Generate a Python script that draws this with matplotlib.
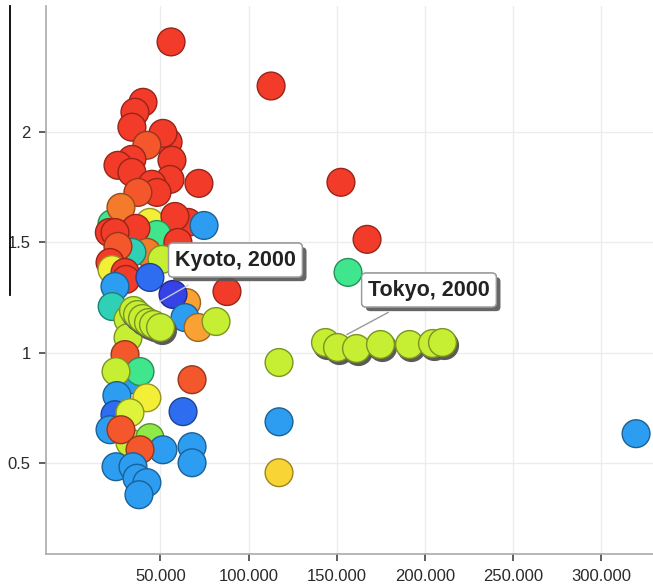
import numpy as np
import matplotlib
matplotlib.use('Agg')
import matplotlib.pyplot as plt
import matplotlib.patheffects as pe
from matplotlib.lines import Line2D
from matplotlib.colors import to_rgb
from matplotlib.transforms import offset_copy
from matplotlib.ticker import FuncFormatter

plt.rcParams['font.family'] = ['Liberation Sans', 'DejaVu Sans']

# bubbles, listed back to front: x value, y value, colour bucket
x_vals = [56.0, 112.7, 40.1, 35.5, 33.8, 54.3, 51.4, 42.3, 33.8, 25.9,
          56.5, 33.8, 55.4, 71.8, 45.2, 48.0, 37.2, 152.3, 167.1, 156.3,
          44.0, 22.5, 21.0, 27.6, 65.6, 58.2, 74.7, 48.0, 36.1, 24.2,
          42.3, 33.8, 59.9, 25.9, 50.9, 21.4, 22.5, 29.9, 30.4, 44.0,
          87.7, 24.2, 64.8, 22.6, 57.1, 63.9, 71.3, 81.5, 31.6, 31.6,
          29.9, 33.8, 38.4, 24.8, 67.9, 25.3, 42.3, 62.8, 24.2, 32.7,
          21.4, 32.7, 44.0, 27.6, 51.4, 38.4, 67.9, 67.9, 24.8, 34.4,
          36.7, 42.3, 37.8, 117.2, 117.2, 117.2, 319.6]
y_vals = [2.41, 2.21, 2.136, 2.091, 2.023, 1.955, 1.995, 1.941, 1.877, 1.85,
          1.873, 1.818, 1.786, 1.768, 1.764, 1.727, 1.727, 1.773, 1.514, 1.364,
          1.591, 1.585, 1.545, 1.659, 1.591, 1.618, 1.577, 1.536, 1.564, 1.545,
          1.455, 1.455, 1.50, 1.482, 1.423, 1.409, 1.377, 1.364, 1.332, 1.341,
          1.277, 1.30, 1.227, 1.209, 1.264, 1.159, 1.114, 1.141, 1.15, 1.068,
          0.991, 0.877, 0.914, 0.914, 0.877, 0.805, 0.795, 0.732, 0.718, 0.727,
          0.65, 0.591, 0.614, 0.65, 0.559, 0.559, 0.573, 0.50, 0.482, 0.482,
          0.43, 0.41, 0.355, 0.955, 0.686, 0.455, 0.632]
tone = ['red', 'red', 'red', 'red', 'red', 'red', 'red', 'ored', 'red', 'red',
        'red', 'red', 'red', 'red', 'red', 'red', 'ored', 'red', 'red', 'mint',
        'yellow', 'mint', 'red', 'orange', 'red', 'red', 'blue', 'mint', 'red', 'red',
        'orange', 'teal', 'red', 'ored', 'lime', 'red', 'yellow', 'red', 'red', 'royal',
        'red', 'blue', 'amber', 'teal', 'dblue', 'blue', 'amber', 'lime', 'lime', 'lime',
        'ored', 'blue', 'mint', 'lime', 'ored', 'blue', 'yellow', 'royal', 'royal', 'ylime',
        'blue', 'lime', 'green', 'ored', 'blue', 'ored', 'blue', 'blue', 'blue', 'blue',
        'blue', 'blue', 'blue', 'lime', 'blue', 'gold', 'blue']

# trails (bubbles with a drop shadow)
kyoto_x = [34.4, 36.7, 39.5, 42.9, 46.0, 49.7]
kyoto_y = [1.195, 1.173, 1.159, 1.141, 1.132, 1.118]
tokyo_x = [143.3, 150.1, 160.9, 174.5, 190.9, 204.0, 209.6]
tokyo_y = [1.05, 1.027, 1.023, 1.041, 1.041, 1.045, 1.05]

palette = {
    'red': '#f33b29', 'ored': '#f4572b', 'orange': '#f47a2c', 'amber': '#f9a233',
    'gold': '#f8d435', 'yellow': '#f3ef36', 'ylime': '#def43a', 'lime': '#c6ef33',
    'green': '#8eea46', 'mint': '#3fe68e', 'teal': '#2fd1b6', 'blue': '#2c9df1',
    'royal': '#2e6df0', 'dblue': '#3542e6',
}

def darker(c, f=0.62):
    r, g, b = to_rgb(c)
    return (r * f, g * f, b * f)

fig = plt.figure(figsize=(6.53, 5.85), dpi=100)
ax = fig.add_axes([46 / 653, 31 / 585, 1 - 46 / 653, 548 / 585])

S = 400
fc = [palette[t] for t in tone]
ec = [darker(palette[t]) for t in tone]
ax.scatter(np.array(x_vals) * 1000, y_vals, s=S, c=fc, edgecolors=ec,
           linewidths=1, zorder=3)

shadow = offset_copy(ax.transData, fig=fig, x=2, y=-3, units='dots')
for tx, ty in [(kyoto_x, kyoto_y), (tokyo_x, tokyo_y)]:
    xs = np.array(tx) * 1000
    ax.scatter(xs, ty, s=S, c='#5a5a5a', edgecolors='#5a5a5a', linewidths=1,
               transform=shadow, zorder=4)
    ax.scatter(xs, ty, s=S, c=palette['lime'], edgecolors=darker(palette['lime']),
               linewidths=1, zorder=5)

# connector lines and labels
ax.plot([65600, 49700], [1.305, 1.232], color='#c8c8d8', lw=1, zorder=6)
ax.plot([179000, 155700], [1.182, 1.082], color='#999999', lw=1, zorder=6)

for lx, ly, txt in [(92500, 1.42, 'Kyoto, 2000'), (202200, 1.284, 'Tokyo, 2000')]:
    t = ax.text(lx, ly, txt, ha='center', va='center', fontsize=15.5,
                fontweight='bold', color='#222222', zorder=7,
                bbox=dict(boxstyle='round,pad=0.3,rounding_size=0.2',
                          fc='white', ec='#999999', lw=1))
    t.get_bbox_patch().set_path_effects(
        [pe.withSimplePatchShadow(offset=(3, -3), shadow_rgbFace='#555555', alpha=0.9),
         pe.Normal()])

ax.set_xlim(-14900, 329200)
ax.set_ylim(0.086, 2.573)
ax.set_xticks([50000, 100000, 150000, 200000, 250000, 300000])
ax.set_yticks([0.5, 1, 1.5, 2])
ax.xaxis.set_major_formatter(FuncFormatter(lambda v, p: f"{int(v):,}".replace(',', '.')))
ax.yaxis.set_major_formatter(FuncFormatter(lambda v, p: f"{v:g}"))
ax.tick_params(direction='out', length=5, width=1.2, color='#444444',
               labelsize=12, labelcolor='#2a2a2a', pad=6)
ax.grid(True, color='#ececec', lw=1, zorder=0)
ax.set_axisbelow(True)
for s in ['top', 'right']:
    ax.spines[s].set_visible(False)
for s in ['left', 'bottom']:
    ax.spines[s].set_color('#aaaaaa')
    ax.spines[s].set_linewidth(1.2)

fig.add_artist(Line2D([10 / 653, 10 / 653], [1 - 6 / 585, 1 - 295 / 585],
                      color='black', lw=1.3))

fig.savefig('out.png', dpi=100)
